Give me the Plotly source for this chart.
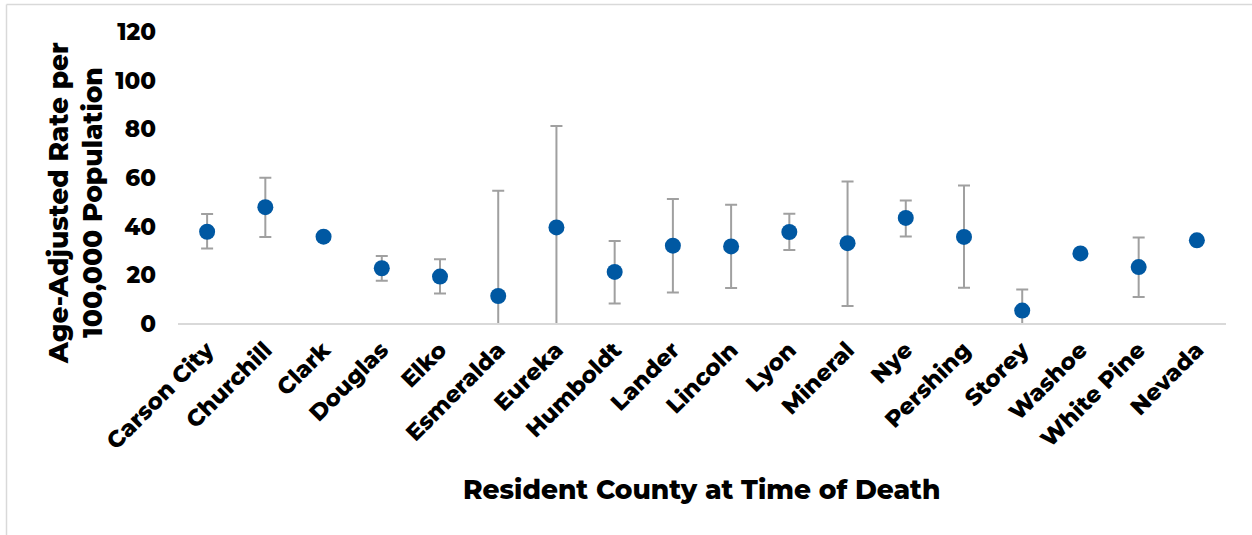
import plotly.graph_objects as go

# Age-adjusted rates with 95% confidence limits by county
counties = ["Carson City", "Churchill", "Clark", "Douglas", "Elko", "Esmeralda",
            "Eureka", "Humboldt", "Lander", "Lincoln", "Lyon", "Mineral", "Nye",
            "Pershing", "Storey", "Washoe", "White Pine", "Nevada"]
rates = [37.9, 48.0, 35.9, 22.9, 19.5, 11.5, 39.7, 21.4, 32.2, 31.9, 37.8, 33.2,
         43.6, 35.8, 5.5, 29.0, 23.4, 34.4]
lower_ci = [31.0, 35.8, 35.0, 17.8, 12.5, 0.0, 0.0, 8.4, 12.9, 14.8, 30.4, 7.4,
            36.0, 14.9, 0.0, 28.0, 11.1, 34.0]
upper_ci = [45.2, 60.1, 36.8, 27.9, 26.6, 54.8, 81.4, 34.1, 51.4, 49.0, 45.3, 58.6,
            50.8, 56.9, 14.2, 30.0, 35.5, 34.8]
y_ticks = [0, 20, 40, 60, 80, 100, 120]

err_plus = [u - r for u, r in zip(upper_ci, rates)]
err_minus = [r - l for r, l in zip(rates, lower_ci)]

FONT = "Montserrat, 'DejaVu Sans', sans-serif"

fig = go.Figure(go.Scatter(
    x=counties, y=rates, mode="markers",
    marker=dict(color="#0058A2", size=16),
    error_y=dict(type="data", symmetric=False, array=err_plus, arrayminus=err_minus,
                 color="#A0A0A0", thickness=2, width=6),
    showlegend=False,
))

# plot area in pixels: left 178, right 1226, top 32, bottom 324
L, R, T, B = 178, 1226, 32, 324
W, H = R - L, B - T

def px(x):
    return (x - L) / W

def py(y):
    return (B - y) / H

fig.update_layout(
    width=1252, height=535,
    margin=dict(l=L, r=1252 - R, t=T, b=535 - B, autoexpand=False),
    paper_bgcolor="white", plot_bgcolor="white",
    font=dict(family=FONT, color="black", size=20),
    xaxis=dict(
        range=[-0.5, len(counties) - 0.5],
        tickangle=-45, showgrid=False, zeroline=False,
        showline=False, ticks="", ticklabelstandoff=7,
        tickfont=dict(family=FONT, size=23, weight=800),
    ),
    yaxis=dict(
        range=[0, 120], tickvals=y_ticks, showgrid=False, zeroline=False,
        showline=False, ticks="", ticklabelstandoff=21,
        tickfont=dict(family=FONT, size=23, weight=800),
    ),
    shapes=[
        # baseline along the category axis
        dict(type="line", xref="paper", yref="paper", x0=0, x1=1, y0=0, y1=0,
             line=dict(color="#D9D9D9", width=2)),
        # outer frame edges
        dict(type="line", xref="paper", yref="paper", x0=px(6.5), x1=px(1260),
             y0=py(4.5), y1=py(4.5), line=dict(color="#D9D9D9", width=1.5)),
        dict(type="line", xref="paper", yref="paper", x0=px(6.5), x1=px(6.5),
             y0=py(4.5), y1=py(540), line=dict(color="#D9D9D9", width=1.5)),
    ],
    annotations=[
        dict(text="Age-Adjusted Rate per<br>100,000 Population", textangle=-90,
             xref="paper", yref="paper", x=px(75), y=py(203),
             xanchor="center", yanchor="middle", showarrow=False,
             font=dict(family=FONT, size=26.5, weight=800)),
        dict(text="Resident County at Time of Death",
             xref="paper", yref="paper", x=px(701), y=py(489),
             xanchor="center", yanchor="middle", showarrow=False,
             font=dict(family=FONT, size=26.5, weight=800)),
    ],
)

fig.write_html("out.html")
